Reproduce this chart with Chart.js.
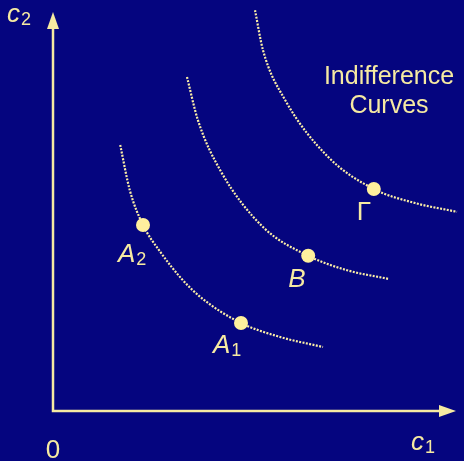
<!DOCTYPE html>
<html>
<head>
<meta charset="utf-8">
<script src="https://cdn.jsdelivr.net/npm/chart.js@4"></script>
<style>
html, body { margin: 0; padding: 0; background: #05057f; }
canvas { display: block; }
</style>
</head>
<body>
<canvas id="chart" width="464" height="461"></canvas>
<script>
// indifference curves
let curve1X = [1.68, 1.92, 2.25, 2.68, 3.22, 3.72, 4.7, 5.68, 6.75];
let curve1Y = [6.65, 5.52, 4.65, 3.98, 3.3, 2.82, 2.2, 1.85, 1.6];
let curve2X = [3.35, 3.62, 4.18, 5.25, 6.38, 7.35, 8.4];
let curve2Y = [8.35, 7.28, 6.02, 4.6, 3.88, 3.52, 3.3];
let curve3X = [5.05, 5.25, 5.8, 6.88, 8.02, 9.05, 10.1];
let curve3Y = [10.02, 9.02, 7.78, 6.35, 5.55, 5.2, 4.98];

// marked bundles
let pointNames = ['A2', 'A1', 'B', 'Γ'];
let pointX     = [2.25, 4.7, 6.38, 8.02];
let pointY     = [4.65, 2.2, 3.88, 5.55];

// axes
let axisTopY   = 9.975;
let axisRightX = 10.075;

const BG = '#05057f';
const INK = '#f6eaa2';
const DOT = '#fff09c';

function toXY(xs, ys) {
  return xs.map((x, i) => ({ x: x, y: ys[i] }));
}

function curveSet(xs, ys) {
  return {
    data: toXY(xs, ys),
    showLine: true,
    borderColor: '#fbeea6',
    borderWidth: 2.2,
    borderDash: [2, 1.4],
    pointRadius: 0,
    cubicInterpolationMode: 'monotone',
    clip: false
  };
}

const bgPlugin = {
  id: 'bg',
  beforeDraw(chart) {
    const ctx = chart.ctx;
    ctx.save();
    ctx.fillStyle = BG;
    ctx.fillRect(0, 0, chart.width, chart.height);
    ctx.restore();
  }
};

// label text with optional subscript
function drawSub(ctx, x, y, main, sub, mainFont, subFont) {
  ctx.font = mainFont;
  ctx.fillText(main, x, y);
  let w = ctx.measureText(main).width;
  if (sub) {
    ctx.font = subFont;
    ctx.fillText(sub, x + w + 1, y + 3);
  }
}

const annotPlugin = {
  id: 'annot',
  afterDraw(chart) {
    const ctx = chart.ctx;
    const xs = chart.scales.x, ys = chart.scales.y;
    const ox = xs.getPixelForValue(0), oy = ys.getPixelForValue(0);
    ctx.save();
    ctx.fillStyle = INK;

    // arrow heads
    let ty = ys.getPixelForValue(axisTopY);
    ctx.beginPath();
    ctx.moveTo(ox, ty);
    ctx.lineTo(ox - 6, ty + 17);
    ctx.lineTo(ox + 6, ty + 17);
    ctx.closePath();
    ctx.fill();
    let tx = xs.getPixelForValue(axisRightX);
    ctx.beginPath();
    ctx.moveTo(tx, oy);
    ctx.lineTo(tx - 17, oy - 6);
    ctx.lineTo(tx - 17, oy + 6);
    ctx.closePath();
    ctx.fill();

    ctx.textBaseline = 'alphabetic';
    ctx.textAlign = 'left';
    const italic = 'italic 26px "Liberation Sans"';
    const upright = '26px "Liberation Sans"';
    const small = '18px "Liberation Sans"';

    // axis labels
    drawSub(ctx, ox - 46, ty + 10, 'c', '2', italic, small);
    drawSub(ctx, tx - 45, oy + 39, 'c', '1', italic, small);
    ctx.font = upright;
    ctx.textAlign = 'center';
    ctx.fillText('0', ox, oy + 47);

    // title
    ctx.font = '25px "Liberation Sans"';
    let cx = xs.getPixelForValue(8.4);
    let cy = ys.getPixelForValue(8.18);
    ctx.fillText('Indifference', cx, cy);
    ctx.fillText('Curves', cx, cy + 29);

    // point labels
    ctx.textAlign = 'left';
    const offs = [[-25, 37], [-28, 30], [-20, 31], [-17, 31]];
    pointNames.forEach((name, i) => {
      let px = xs.getPixelForValue(pointX[i]) + offs[i][0];
      let py = ys.getPixelForValue(pointY[i]) + offs[i][1];
      if (name === 'Γ') {
        drawSub(ctx, px, py, 'Γ', '', upright, small);
      } else {
        drawSub(ctx, px, py, name[0], name.slice(1), italic, small);
      }
    });
    ctx.restore();
  }
};

new Chart(document.getElementById('chart'), {
  type: 'scatter',
  data: {
    datasets: [
      {
        data: [{ x: 0, y: axisTopY - 0.3 }, { x: 0, y: 0 }, { x: axisRightX - 0.3, y: 0 }],
        showLine: true,
        borderColor: INK,
        borderWidth: 2.5,
        pointRadius: 0,
        clip: false
      },
      curveSet(curve1X, curve1Y),
      curveSet(curve2X, curve2Y),
      curveSet(curve3X, curve3Y),
      {
        data: toXY(pointX, pointY),
        pointRadius: 7,
        pointBackgroundColor: DOT,
        pointBorderWidth: 0,
        clip: false
      }
    ]
  },
  options: {
    responsive: false,
    animation: false,
    layout: { autoPadding: false, padding: { left: 53, right: 1, top: 11, bottom: 50 } },
    plugins: { legend: { display: false }, tooltip: { enabled: false } },
    scales: {
      x: { type: 'linear', min: 0, max: 10.25, display: false },
      y: { type: 'linear', min: 0, max: 10, display: false }
    }
  },
  plugins: [bgPlugin, annotPlugin]
});
</script>
</body>
</html>
